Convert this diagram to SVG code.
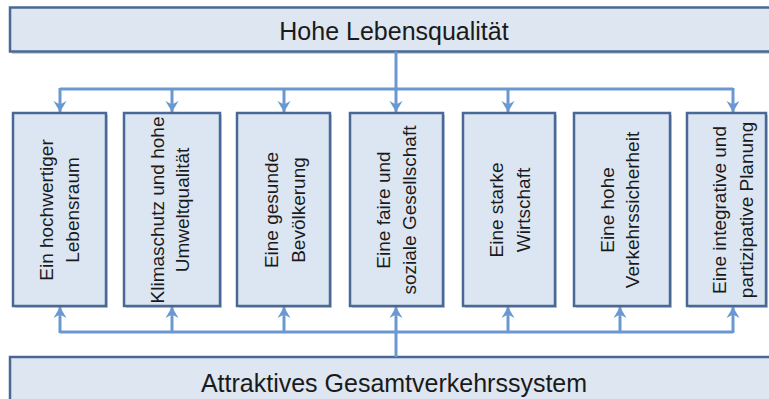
<svg xmlns="http://www.w3.org/2000/svg" width="769" height="399" viewBox="0 0 769 399">
  <style>
    .bar { fill: #dde6f1; stroke: #4a6895; stroke-width: 2.5; }
    .box { fill: #dce6f2; stroke: #4a6895; stroke-width: 2.5; }
    .shade { fill: #7f94b3; opacity: 0.45; }
    .title { font-family: "Liberation Sans", Arial, sans-serif; font-size: 25px; fill: #1a1a1a; text-anchor: middle; }
    .label { font-family: "Liberation Sans", Arial, sans-serif; font-size: 19px; fill: #1a1a1a; text-anchor: middle; }
    .link { fill: none; stroke: #6b98d0; stroke-width: 3; }
    .arrow { marker-end: url(#head); }
  </style>
  <defs>
    <marker id="head" viewBox="0 0 12 14" refX="11" refY="7" markerWidth="12" markerHeight="14" markerUnits="userSpaceOnUse" orient="auto">
      <path d="M0,0.5 L11,7 L0,13.5 L3.5,7 Z" fill="#6b98d0"/>
    </marker>
  </defs>
  <rect width="769" height="399" fill="#ffffff"/>

  <!-- upper goal bar -->
  <g id="lebensqualitaet">
    <rect class="shade" x="12" y="10" width="770" height="44"/>
    <rect class="bar" x="10" y="7.5" width="770" height="44"/>
    <text class="title" x="394" y="40">Hohe Lebensqualität</text>
  </g>

  <!-- lower base bar -->
  <g id="gesamtverkehrssystem">
    <rect class="shade" x="12" y="359" width="770" height="50"/>
    <rect class="bar" x="10" y="357" width="770" height="50"/>
    <text class="title" x="394" y="391.5">Attraktives Gesamtverkehrssystem</text>
  </g>

  <!-- connectors -->
  <g id="connectors">
    <path class="link" d="M60,89 H733"/>
    <path class="link arrow" d="M396,51.5 V112"/>
    <path class="link arrow" d="M60,88 V112"/>
    <path class="link arrow" d="M172,89 V112"/>
    <path class="link arrow" d="M284,89 V112"/>
    <path class="link arrow" d="M508,89 V112"/>
    <path class="link arrow" d="M733,88 V112"/>

    <path class="link" d="M60,332 H733"/>
    <path class="link arrow" d="M396,357 V307"/>
    <path class="link arrow" d="M60,333 V307"/>
    <path class="link arrow" d="M172,332 V307"/>
    <path class="link arrow" d="M284,332 V307"/>
    <path class="link arrow" d="M508,332 V307"/>
    <path class="link arrow" d="M620,332 V307"/>
    <path class="link arrow" d="M733,333 V307"/>
  </g>

  <!-- goal columns -->
  <g id="lebensraum">
    <rect class="shade" x="15" y="115" width="93" height="193"/>
    <rect class="box" x="13" y="113" width="93" height="193"/>
    <g transform="translate(0,210) rotate(-90)">
      <text class="label" x="0" y="53">Ein hochwertiger</text>
      <text class="label" x="0" y="79">Lebensraum</text>
    </g>
  </g>

  <g id="umweltqualitaet">
    <rect class="shade" x="126" y="115" width="96" height="193"/>
    <rect class="box" x="124" y="113" width="96" height="193"/>
    <g transform="translate(0,210) rotate(-90)">
      <text class="label" x="0" y="164">Klimaschutz und hohe</text>
      <text class="label" x="0" y="189">Umweltqualität</text>
    </g>
  </g>

  <g id="bevoelkerung">
    <rect class="shade" x="239" y="115" width="93" height="193"/>
    <rect class="box" x="237" y="113" width="93" height="193"/>
    <g transform="translate(0,210) rotate(-90)">
      <text class="label" x="0" y="278">Eine gesunde</text>
      <text class="label" x="0" y="305">Bevölkerung</text>
    </g>
  </g>

  <g id="gesellschaft">
    <rect class="shade" x="352" y="115" width="93" height="193"/>
    <rect class="box" x="350" y="113" width="93" height="193"/>
    <g transform="translate(0,210) rotate(-90)">
      <text class="label" x="0" y="390">Eine faire und</text>
      <text class="label" x="0" y="416">soziale Gesellschaft</text>
    </g>
  </g>

  <g id="wirtschaft">
    <rect class="shade" x="465" y="115" width="92" height="193"/>
    <rect class="box" x="463" y="113" width="92" height="193"/>
    <g transform="translate(0,210) rotate(-90)">
      <text class="label" x="0" y="503">Eine starke</text>
      <text class="label" x="0" y="530">Wirtschaft</text>
    </g>
  </g>

  <g id="verkehrssicherheit">
    <rect class="shade" x="576" y="115" width="96" height="193"/>
    <rect class="box" x="574" y="113" width="96" height="193"/>
    <g transform="translate(0,210) rotate(-90)">
      <text class="label" x="0" y="614">Eine hohe</text>
      <text class="label" x="0" y="639">Verkehrssicherheit</text>
    </g>
  </g>

  <g id="planung">
    <rect class="shade" x="689" y="115" width="79" height="193"/>
    <rect class="box" x="687" y="113" width="79" height="193"/>
    <g transform="translate(0,210) rotate(-90)">
      <text class="label" x="0" y="726">Eine integrative und</text>
      <text class="label" x="0" y="753">partizipative Planung</text>
    </g>
  </g>
</svg>
